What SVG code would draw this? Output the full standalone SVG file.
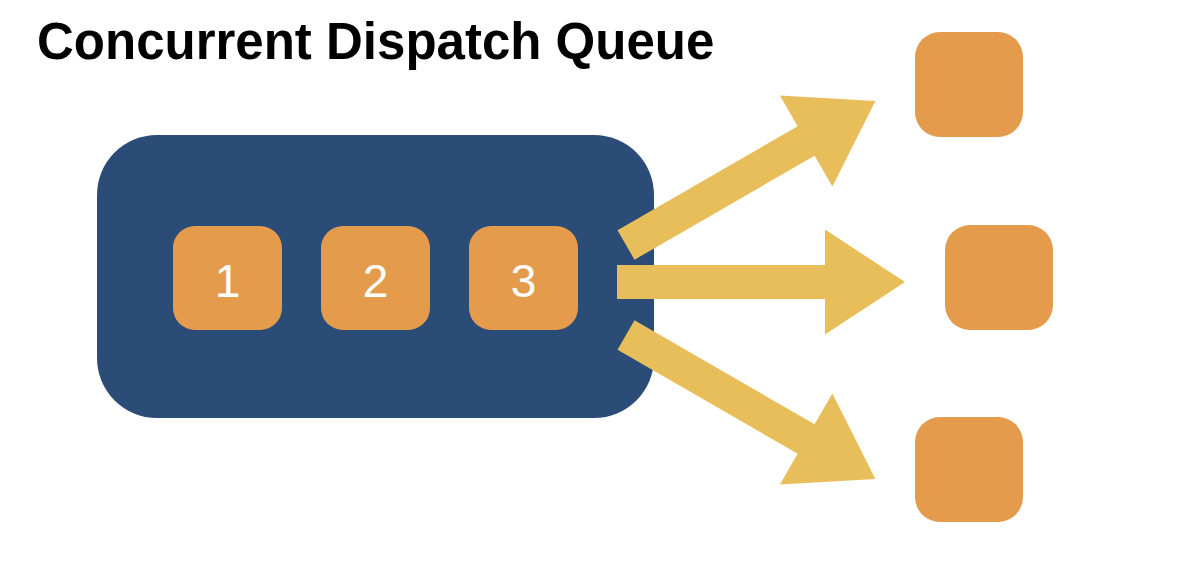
<svg xmlns="http://www.w3.org/2000/svg" xmlns:xlink="http://www.w3.org/1999/xlink" width="1178" height="574" viewBox="0 0 1178 574">
  <style>
    .title { font-family: "Liberation Sans", Arial, sans-serif; font-weight: bold; font-size: 51px; fill: #000000; }
    .queue { fill: #2B4C77; }
    .task { fill: #E49B4C; }
    .num { font-family: "Liberation Sans", Arial, sans-serif; font-size: 46px; fill: #FFFFFF; text-anchor: middle; }
    .arrow { fill: #E8BE5A; }
  </style>
  <defs>
    <path id="arrowShape" d="M0,-17 L208,-17 L208,-52.5 L288,0 L208,52.5 L208,17 L0,17 Z"/>
  </defs>
  <rect width="1178" height="574" fill="#FFFFFF"/>
  <text class="title" x="37" y="59">Concurrent Dispatch Queue</text>

  <g id="queue">
    <rect class="queue" x="97" y="135" width="557" height="283" rx="60" ry="60"/>
  </g>
  <g id="task1">
    <rect class="task" x="173" y="226" width="109" height="104" rx="22" ry="22"/>
    <text class="num" x="227.5" y="297">1</text>
  </g>
  <g id="task2">
    <rect class="task" x="321" y="226" width="109" height="104" rx="22" ry="22"/>
    <text class="num" x="375.5" y="297">2</text>
  </g>
  <g id="task3">
    <rect class="task" x="469" y="226" width="109" height="104" rx="22" ry="22"/>
    <text class="num" x="523.5" y="297">3</text>
  </g>

  <g id="connectors">
    <use xlink:href="#arrowShape" href="#arrowShape" class="arrow" transform="translate(626,245) rotate(-30)"/>
    <use xlink:href="#arrowShape" href="#arrowShape" class="arrow" transform="translate(617,282)"/>
    <use xlink:href="#arrowShape" href="#arrowShape" class="arrow" transform="translate(626,335) rotate(30)"/>
  </g>

  <g id="out1">
    <rect class="task" x="915" y="32" width="108" height="105" rx="25" ry="25"/>
  </g>
  <g id="out2">
    <rect class="task" x="945" y="225" width="108" height="105" rx="25" ry="25"/>
  </g>
  <g id="out3">
    <rect class="task" x="915" y="417" width="108" height="105" rx="25" ry="25"/>
  </g>
</svg>
